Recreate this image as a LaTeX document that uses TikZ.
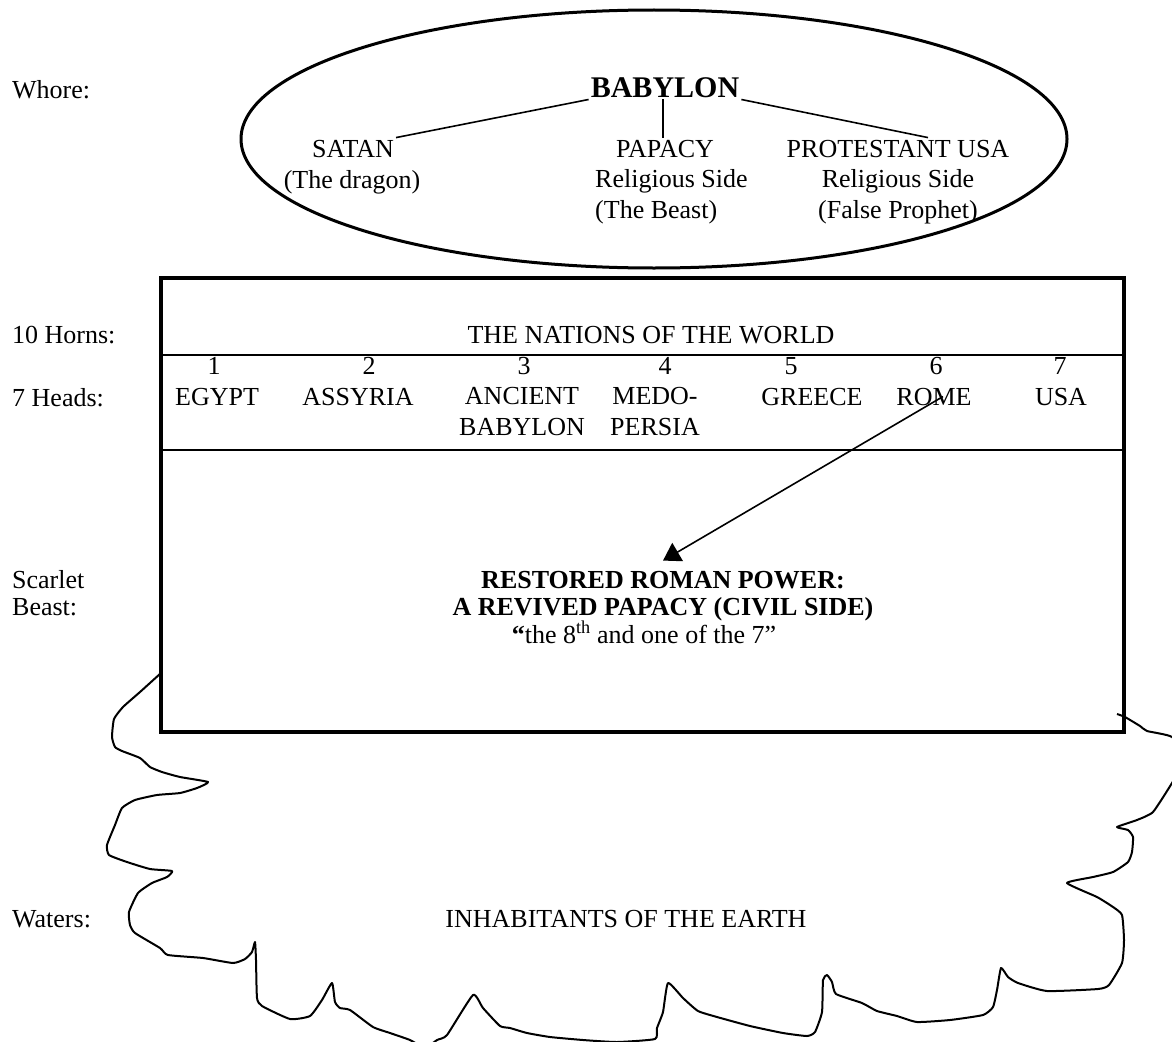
\documentclass[tikz,border=0pt]{standalone}
\usepackage{fontspec}
\setmainfont{Liberation Serif}
\usetikzlibrary{calc,arrows.meta,positioning}

\begin{document}
\begin{tikzpicture}[x=1pt,y=-1pt,
  txt/.style={font=\fontsize{26}{30.5}\selectfont,inner sep=2pt},
  lbl/.style={txt,anchor=base west,align=left},
  link/.style={line width=1.6pt},
  pointer/.style={line width=1.6pt,-{Triangle[length=17pt,width=21pt]}},
  cloudline/.style={line width=2pt,line join=round}]
  \useasboundingbox (0,0) rectangle (1172,1041);
  \clip (0,0) rectangle (1172,1041);
  \node[lbl] (whore) at (10,98) {Whore:};
  \node[lbl] (horns) at (10,343) {10 Horns:};
  \node[lbl] (heads) at (10,406) {7 Heads:};
  \node[lbl,font=\fontsize{26}{27}\selectfont] (scarlet) at (10,615) {Scarlet\\Beast:};
  \node[lbl] (waters) at (10,927) {Waters:};

  \draw[line width=3pt] (654,139) ellipse [x radius=413, y radius=129];
  \node[txt,anchor=base,font=\fontsize{30}{34}\selectfont\bfseries] (babylon) at (665,97) {BABYLON};
  \node[txt,anchor=base] (satan) at (353,157) {SATAN};
  \node[txt,anchor=base] (papacy) at (665,157) {PAPACY};
  \node[txt,anchor=base] (protusa) at (898,157) {PROTESTANT USA};
  \node[txt,anchor=base] (satansub) at (352,188) {(The dragon)};
  \node[txt,anchor=base west,align=left] (papacysub) at (593,218) {Religious Side\\(The Beast)};
  \node[txt,anchor=base,align=center] (protusasub) at (898,218) {Religious Side\\(False Prophet)};
  \draw[link] (babylon.south west) -- (satan.north east);
  \draw[link] ([xshift=-2pt]babylon.south) -- ([xshift=-2pt]babylon.south |- papacy.north);
  \draw[link] (babylon.south east) -- ([xshift=30pt]protusa.north);

  \draw[line width=4pt] (161,278) rectangle (1124,732);
  \draw[line width=2pt] (161,355) -- (1124,355);
  \draw[line width=2pt] (161,450) -- (1124,450);
  \node[txt,anchor=base] (nations) at (651,343) {THE NATIONS OF THE WORLD};
  \foreach \n/\xa/\xb/\yb/\name in {1/214/217/405/EGYPT, 2/369/358/405/ASSYRIA, 3/524/522/435/{ANCIENT\\BABYLON},
    4/665/655/435/{MEDO-\\PERSIA}, 5/791/812/405/GREECE, 6/936/934/405/ROME, 7/1060/1061/405/USA}{
    \node[txt,anchor=base] (num\n) at (\xa,374) {\n};
    \node[txt,anchor=base,align=center] (head\n) at (\xb,\yb) {\name};
  }
  \node[txt,anchor=base,align=center,font=\fontsize{26}{27.5}\selectfont] (restored) at (663,643)
    {\textbf{RESTORED ROMAN POWER:}\\\textbf{A REVIVED PAPACY (CIVIL SIDE)}\\\textbf{“}the 8\textsuperscript{th} and one of the 7”\hspace*{38pt}};
  \draw[pointer] ([xshift=9pt]head6.center) -- ([yshift=8pt]restored.north);

  \draw[cloudline] plot[smooth,tension=0.3] coordinates {
    (161,673) (140,692) (123,707) (114,719) (112,737) (115,747) (122,751) (140,758) (150,767)
    (162,772) (180,777) (208,782) (197,788) (180,793) (157,795) (135,800) (122,808) (115,825)
    (107,845) (109,855) (127,862) (150,869) (172,871) (167,877) (152,883) (138,893) (129,912)
    (130,925) (135,933) (160,948) (168,955) (203,958) (233,963) (245,959) (252,952) (255,942)
    (256,960) (257,998) (262,1006) (290,1019) (310,1016) (322,1000) (332,983) (335,1002)
    (340,1008) (350,1010) (373,1027) (390,1033) (410,1040) (425,1048) (437,1040) (447,1035)
    (473,995) (483,1008) (500,1026) (510,1028) (527,1033) (550,1037) (583,1040) (617,1042)
    (655,1039) (657,1028) (663,1012) (668,983) (683,998) (698,1011) (717,1017) (750,1026)
    (783,1033) (807,1036) (815,1032) (822,1012) (823,980) (827,975) (832,982) (836,994)
    (862,1003) (877,1011) (897,1016) (917,1022) (950,1020) (983,1015) (993,1007) (997,990)
    (1001,968) (1008,977) (1018,983) (1047,991) (1098,989) (1109,985) (1122,963) (1124,940)
    (1122,915) (1113,907) (1097,897) (1067,883) (1093,877) (1113,872) (1128,862) (1132,852)
    (1133,837) (1128,830) (1117,827) (1137,820) (1153,812) (1172,783) (1185,760) (1172,737)
    (1147,731) (1140,726) (1125,717) (1117,714)};
  \node[txt,anchor=base] (inhabitants) at (626,927) {INHABITANTS OF THE EARTH};
\end{tikzpicture}
\end{document}
